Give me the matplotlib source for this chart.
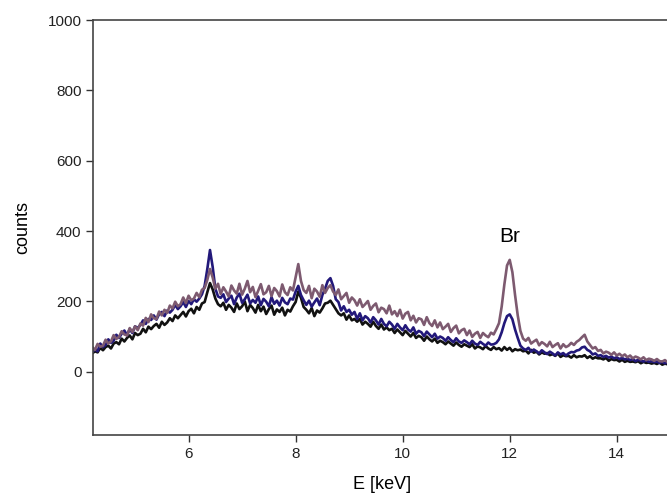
import numpy as np
import matplotlib
matplotlib.use('Agg')
import matplotlib.pyplot as plt

plt.rcParams['font.family'] = ['Liberation Sans', 'DejaVu Sans']

# energy grid, 0.05 keV steps from 4.2 to 15.0
energy = np.round(np.arange(4.20, 15.001, 0.05), 2)

# spectra (counts)
mauve_counts = [
    70, 62, 79, 71, 74, 91, 80, 86, 104, 93,
    99, 115, 106, 103, 124, 113, 129, 118, 137, 131,
    153, 141, 163, 152, 150, 171, 160, 176, 167, 188,
    180, 199, 186, 192, 211, 195, 216, 203, 208, 224,
    212, 233, 238, 261, 292, 268, 236, 250, 221, 240,
    228, 214, 245, 231, 222, 250, 219, 236, 258, 226,
    241, 212, 230, 249, 220, 226, 244, 215, 238, 229,
    214, 248, 226, 218, 240, 231, 268, 306, 258, 232,
    224, 244, 209, 236, 228, 213, 246, 224, 238, 246,
    228, 218, 234, 206, 215, 224, 196, 211, 203, 188,
    206, 184, 192, 201, 176, 187, 194, 169, 182, 178,
    166, 188, 163, 172, 158, 176, 151, 165, 170, 146,
    159, 140, 152, 149, 133, 155, 138, 130, 146, 126,
    140, 121, 128, 136, 113, 124, 131, 109, 118, 122,
    104, 117, 99, 108, 113, 96, 110, 103, 98, 111,
    106, 121, 138, 185, 248, 302, 318, 283, 218, 160,
    116, 94, 88, 96, 80, 86, 91, 75, 84, 79,
    72, 85, 70, 76, 81, 66, 78, 70, 74, 82,
    76, 85, 90, 98, 105, 86, 76, 66, 70, 59,
    62, 52, 57, 54, 48, 55, 46, 51, 44, 49,
    41, 46, 38, 43, 40, 35, 41, 33, 37, 35,
    31, 36, 30, 29, 33, 27, 30,
]

blue_counts = [
    55, 64, 58, 80, 70, 76, 92, 82, 88, 105,
    96, 108, 117, 104, 121, 110, 129, 124, 133, 146,
    136, 150, 147, 160, 148, 164, 170, 158, 174, 168,
    176, 190, 178, 186, 198, 184, 201, 192, 206, 199,
    208, 220, 244, 292, 346, 298, 236, 214, 210, 220,
    198, 208, 216, 192, 211, 222, 196, 206, 219, 194,
    204, 196, 214, 189, 207, 199, 186, 212, 193, 202,
    188, 210, 197, 192, 208, 205, 228, 244, 218, 203,
    190, 202, 185, 197, 208, 189, 218, 236, 258, 266,
    244, 206, 198, 174, 186, 170, 176, 162, 170, 150,
    166, 146, 158, 152, 140, 155, 146, 134, 150, 136,
    129, 142, 134, 122, 136, 126, 118, 132, 120, 114,
    126, 108, 116, 112, 101, 114, 106, 98, 108, 94,
    100, 96, 88, 98, 90, 84, 95, 86, 82, 89,
    84, 78, 88, 80, 76, 85, 79, 74, 83, 77,
    78, 82, 92, 112, 138, 158, 163, 149, 120, 96,
    74, 66, 62, 68, 57, 63, 58, 52, 61, 55,
    50, 57, 52, 46, 55, 49, 53, 46, 52, 56,
    55, 60, 62, 69, 71, 62, 58, 49, 52, 45,
    47, 42, 45, 40, 43, 38, 41, 36, 39, 35,
    37, 33, 36, 30, 34, 31, 29, 32, 28, 30,
    27, 29, 25, 28, 24, 27, 25,
]

black_counts = [
    52, 58, 55, 68, 61, 70, 74, 66, 80, 84,
    78, 94, 86, 96, 103, 92, 110, 104, 108, 122,
    112, 128, 121, 130, 136, 125, 142, 133, 140, 152,
    144, 160, 152, 161, 170, 157, 172, 179, 166, 184,
    176, 194, 198, 226, 252, 234, 208, 192, 186, 196,
    176, 190, 182, 170, 194, 178, 186, 200, 172, 190,
    181, 168, 190, 172, 185, 164, 178, 188, 162, 177,
    170, 182, 160, 176, 171, 186, 198, 228, 210, 184,
    176, 166, 181, 158, 174, 168, 180, 194, 196, 202,
    190, 178, 166, 160, 166, 148, 160, 146, 150, 142,
    150, 134, 142, 136, 128, 142, 130, 122, 134, 120,
    126, 118, 122, 110, 120, 112, 104, 116, 108, 100,
    110, 96, 102, 98, 88, 100, 92, 86, 94, 82,
    88, 84, 78, 86, 80, 74, 83, 76, 71, 78,
    74, 70, 78, 66, 72, 69, 64, 73, 66, 62,
    70, 64, 67, 60, 70, 62, 68, 58, 64, 61,
    63, 58, 60, 52, 62, 54, 57, 49, 55, 51,
    53, 47, 50, 45, 52, 42, 47, 44, 45, 40,
    47, 41, 44, 43, 47, 39, 44, 37, 41, 38,
    38, 35, 39, 31, 36, 33, 34, 29, 34, 28,
    31, 28, 29, 27, 30, 24, 28, 25, 26, 23,
    25, 22, 26, 20, 23, 21, 22,
]

x_ticks = [6, 8, 10, 12, 14]
y_ticks = [0, 200, 400, 600, 800, 1000]

fig = plt.figure(figsize=(6.67, 5.03), dpi=100)
ax = fig.add_axes([0.1399, 0.1352, 0.865, 0.825])

ax.plot(energy, black_counts, color='#111111', lw=1.9)
ax.plot(energy, blue_counts, color='#22187a', lw=1.9)
ax.plot(energy, mauve_counts, color='#7d5a70', lw=1.9)

ax.text(12.0, 385, 'Br', fontsize=15, ha='center', va='center')

ax.set_xlim(4.22, 15.0)
ax.set_ylim(-180, 1000)
ax.set_xticks(x_ticks)
ax.set_yticks(y_ticks)
ax.tick_params(direction='out', length=5, width=1, colors='#333333',
               labelsize=11, labelcolor='#222222')
for s in ax.spines.values():
    s.set_color('#444444')
    s.set_linewidth(1.2)

ax.set_xlabel('E [keV]', fontsize=13, labelpad=11)
ax.set_ylabel('counts', fontsize=13, labelpad=12)

fig.savefig('out.png', dpi=100)
